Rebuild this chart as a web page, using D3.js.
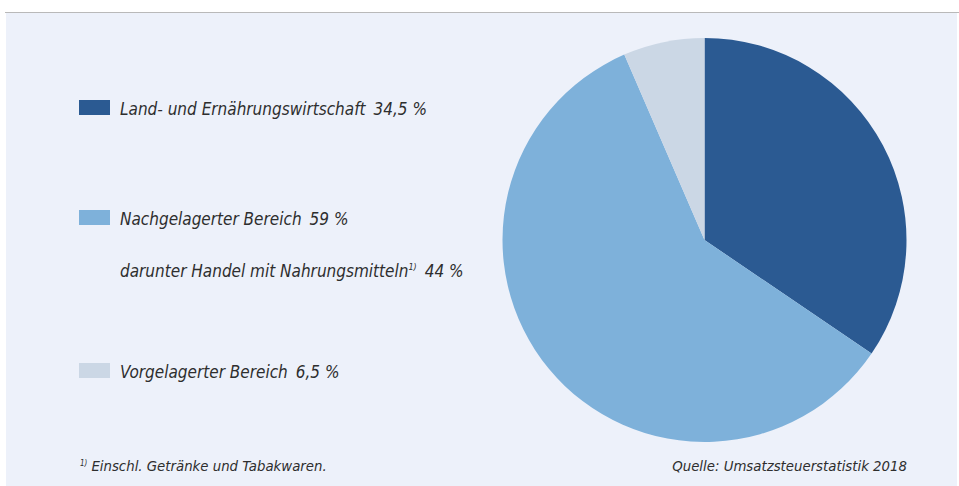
<!DOCTYPE html>
<html>
<head>
<meta charset="utf-8">
<script src="https://cdn.jsdelivr.net/npm/d3@7"></script>
<style>
  body { margin: 0; background: #fff; }
  text { font-family: "Liberation Sans Narrow", "DejaVu Sans Condensed", sans-serif; font-style: italic; fill: #2e2e2e; }
</style>
</head>
<body>
<svg id="chart"></svg>
<script>
// Anteile (Prozent), im Uhrzeigersinn ab 12 Uhr
const categories = ["Land- und Ernährungswirtschaft", "Nachgelagerter Bereich", "Vorgelagerter Bereich"];
const shares = [34.5, 59, 6.5];
const shareLabels = ["34,5 %", "59 %", "6,5 %"];
const colors = ["#2b5a92", "#7eb1da", "#cbd7e5"];

// Unterposition
const subLabel = "darunter Handel mit Nahrungsmitteln";
const subShare = "44 %";

const footnote = "Einschl. Getränke und Tabakwaren.";
const source = "Quelle: Umsatzsteuerstatistik 2018";

const width = 959;
const height = 486;

const svg = d3.select("#chart")
    .attr("width", width)
    .attr("height", height);

// Hintergrundfläche und obere Linie
svg.append("rect")
    .attr("x", 6).attr("y", 12)
    .attr("width", 951).attr("height", height - 12)
    .attr("fill", "#edf1fa");
svg.append("line")
    .attr("x1", 5).attr("x2", width)
    .attr("y1", 12.5).attr("y2", 12.5)
    .attr("stroke", "#b9b9b9");

// Kreisdiagramm
const radius = 202;
const pie = d3.pie().sort(null).value(d => d);
const arc = d3.arc().innerRadius(0).outerRadius(radius);

const g = svg.append("g")
    .attr("transform", `translate(704.5, 240)`);

g.selectAll("path")
  .data(pie(shares))
  .join("path")
    .attr("d", arc)
    .attr("fill", (d, i) => colors[i]);

// Legende (Grundlinien der Zeilen)
const rowY = [115, 225, 378];

const legend = svg.append("g");

categories.forEach((c, i) => {
  legend.append("rect")
      .attr("x", 79).attr("y", rowY[i] - 15)
      .attr("width", 31).attr("height", 15)
      .attr("fill", colors[i]);
  const t = legend.append("text")
      .attr("x", 120).attr("y", rowY[i])
      .style("font-size", "17px");
  t.append("tspan").text(c);
  t.append("tspan").attr("dx", 8).text(shareLabels[i]);
});

const sub = legend.append("text")
    .attr("x", 120).attr("y", 277)
    .style("font-size", "17px");
sub.append("tspan").text(subLabel);
sub.append("tspan").attr("dy", -7).style("font-size", "9px").text("1)");
sub.append("tspan").attr("dy", 7).attr("dx", 8).text(subShare);

// Fußnote und Quelle
const fn = svg.append("text")
    .attr("x", 80).attr("y", 471)
    .style("font-size", "14.8px");
fn.append("tspan").attr("dy", -5).style("font-size", "8px").text("1)");
fn.append("tspan").attr("dy", 5).attr("dx", 4).text(footnote);

svg.append("text")
    .attr("x", 907).attr("y", 471)
    .attr("text-anchor", "end")
    .style("font-size", "14.8px")
    .text(source);
</script>
</body>
</html>
